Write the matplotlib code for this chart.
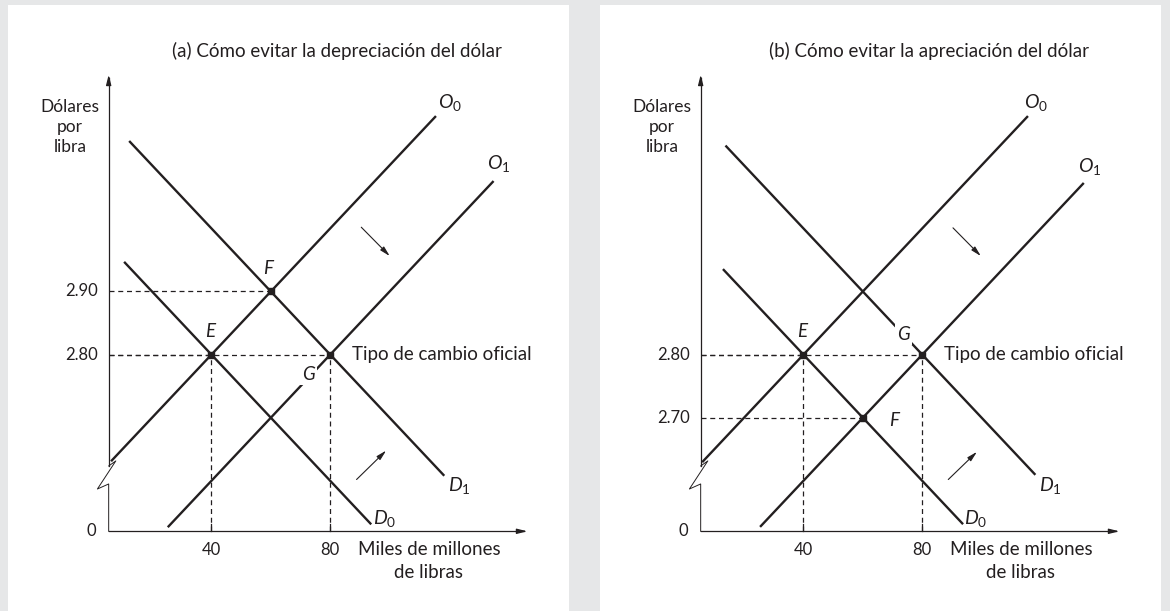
import matplotlib
matplotlib.use("Agg")
import matplotlib.pyplot as plt

plt.rcParams['font.family'] = ['Lato', 'DejaVu Sans']
plt.rcParams['mathtext.fontset'] = 'custom'
plt.rcParams['mathtext.rm'] = 'Lato'
plt.rcParams['mathtext.it'] = 'Lato:italic'

INK = '#231f20'
GRAY = '#e6e7e8'

# ---- data ----
x_ticks = [40, 80]
x_tick_labels = ['40', '80']

titles = ['(a) Cómo evitar la depreciación del dólar',
          '(b) Cómo evitar la apreciación del dólar']

y_ticks_a = [2.80, 2.90]
y_ticks_b = [2.70, 2.80]

# curves as (x ends, y ends), panel a
O0_a_x = [6.2, 115.6];  O0_a_y = [2.631, 3.178]
O1_a_x = [25.3, 135.0]; O1_a_y = [2.5265, 3.075]
D1_a_x = [12.3, 118.4]; D1_a_y = [3.1385, 2.608]
D0_a_x = [10.6, 93.8];  D0_a_y = [2.947, 2.531]

# panel b
O0_b_x = [5.9, 115.6];  O0_b_y = [2.6295, 3.178]
O1_b_x = [25.4, 134.4]; O1_b_y = [2.527, 3.072]
D1_b_x = [13.75, 118.1]; D1_b_y = [3.13125, 2.6095]
D0_b_x = [12.9, 93.75]; D0_b_y = [2.9355, 2.53125]

# equilibrium points (E, F, official rate)
pts_a_x = [40, 60, 80]; pts_a_y = [2.80, 2.90, 2.80]
pts_b_x = [40, 60, 80]; pts_b_y = [2.80, 2.70, 2.80]

# letter labels
lab_a = {'E': (39.5, 2.837), 'F': (59.2, 2.937), 'G': (72.7, 2.768)}
lab_b = {'E': (39.6, 2.837), 'F': (70.4, 2.695), 'G': (73.7, 2.832)}

curve_lab_a = {r'$O_0$': (120.3, 3.200), r'$O_1$': (136.6, 3.1025),
               r'$D_1$': (123.4, 2.593), r'$D_0$': (98.2, 2.541)}
curve_lab_b = {r'$O_0$': (118.4, 3.200), r'$O_1$': (136.3, 3.0975),
               r'$D_1$': (123.1, 2.593), r'$D_0$': (98.1, 2.541)}

shift_arrows_a = [((89.8, 3.005), (100.7, 2.953)), ((88.2, 2.599), (99.5, 2.651))]
shift_arrows_b = [((89.7, 3.004), (100.4, 2.953)), ((88.1, 2.599), (99.1, 2.649))]

# axis geometry
X0 = 5.4      # y axis position
Y0 = 2.52     # x axis position
Y_TOP = 3.248
X_END = 147.3
XLIM = (-28.5, 160.4)
YLIM = (2.3937, 3.354)

FS_TEXT = 13.5
FS_NUM = 12


def draw_panel(ax, title, yt, curves, pts, labs, clabs, arrows, gap_letter):
    ax.set_xlim(*XLIM)
    ax.set_ylim(*YLIM)
    ax.axis('off')
    ax.add_patch(plt.Rectangle((0, 0), 1, 1, transform=ax.transAxes,
                               facecolor='white', edgecolor='none', zorder=0))

    # y axis with break
    ax.plot([X0, X0], [Y_TOP - 0.01, 2.6235], color=INK, lw=0.9)
    ax.plot([X0, 7.8, 1.6, X0, X0], [2.6235, 2.6315, 2.587, 2.595, Y0],
            color=INK, lw=0.7)
    ax.annotate('', xy=(X0, Y_TOP), xytext=(X0, Y_TOP - 0.02),
                arrowprops=dict(arrowstyle='-|>,head_length=0.6,head_width=0.15',
                                color=INK, lw=0.9))
    # x axis
    ax.plot([X0, X_END - 2], [Y0, Y0], color=INK, lw=0.9)
    ax.annotate('', xy=(X_END, Y0), xytext=(X_END - 4, Y0),
                arrowprops=dict(arrowstyle='-|>,head_length=0.6,head_width=0.15',
                                color=INK, lw=0.9))

    # dashed guides
    for xv, yv in zip(pts[0], pts[1]):
        ax.plot([X0, xv], [yv, yv], color=INK, lw=0.9, ls=(0, (4, 3)), zorder=1)
    for xv in x_ticks:
        ax.plot([xv, xv], [Y0, 2.80], color=INK, lw=0.9, ls=(0, (4, 3)), zorder=1)
        ax.plot([xv, xv], [Y0, Y0 + 0.012], color=INK, lw=0.9)

    for cx, cy in curves:
        ax.plot(cx, cy, color=INK, lw=1.7, solid_capstyle='butt', zorder=2)

    ax.plot(pts[0], pts[1], 's', color=INK, ms=5, zorder=4)

    # tick labels
    for v in yt:
        ax.text(1.7, v, f'{v:.2f}', ha='right', va='center', fontsize=FS_NUM, color=INK)
    for xv, s in zip(x_ticks, x_tick_labels):
        ax.text(xv, 2.491, s, ha='center', va='center', fontsize=FS_NUM, color=INK)
    ax.text(-0.5, Y0, '0', ha='center', va='center', fontsize=FS_NUM, color=INK)

    ax.text(113.2, 2.491, 'Miles de millones', ha='center', va='center',
            fontsize=FS_TEXT, color=INK)
    ax.text(113.2, 2.454, 'de libras', ha='center', va='center',
            fontsize=FS_TEXT, color=INK)
    ax.text(-7.7, 3.161, 'Dólares\npor\nlibra', ha='center', va='center',
            fontsize=12.5, color=INK, linespacing=1.3)
    ax.text(82.2, 3.2816, title, ha='center', va='center', fontsize=FS_TEXT, color=INK)
    ax.text(87.3, 2.80, 'Tipo de cambio oficial', ha='left', va='center',
            fontsize=FS_TEXT, color=INK)

    for s, (lx, ly) in labs.items():
        kw = {}
        if s == gap_letter:
            kw['bbox'] = dict(facecolor='white', edgecolor='none', pad=1.5)
        ax.text(lx, ly, s, ha='center', va='center', fontsize=13.5, color=INK,
                fontstyle='italic', zorder=3, **kw)
    for s, (lx, ly) in clabs.items():
        ax.text(lx, ly, s, ha='center', va='center', fontsize=14, color=INK)

    for (x1, y1), (x2, y2) in arrows:
        ax.annotate('', xy=(x2, y2), xytext=(x1, y1),
                    arrowprops=dict(arrowstyle='-|>,head_length=0.6,head_width=0.15',
                                    color=INK, lw=0.8))


fig = plt.figure(figsize=(11.7, 6.11), dpi=100, facecolor=GRAY)
ax_a = fig.add_axes([8 / 1170, 0, 561 / 1170, 606 / 611])
ax_b = fig.add_axes([600 / 1170, 0, 561 / 1170, 606 / 611])

draw_panel(ax_a, titles[0], y_ticks_a,
           [(O0_a_x, O0_a_y), (O1_a_x, O1_a_y), (D1_a_x, D1_a_y), (D0_a_x, D0_a_y)],
           (pts_a_x, pts_a_y), lab_a, curve_lab_a, shift_arrows_a, 'G')
draw_panel(ax_b, titles[1], y_ticks_b,
           [(O0_b_x, O0_b_y), (O1_b_x, O1_b_y), (D1_b_x, D1_b_y), (D0_b_x, D0_b_y)],
           (pts_b_x, pts_b_y), lab_b, curve_lab_b, shift_arrows_b, 'G')

fig.savefig('out.png', dpi=100, facecolor=GRAY)
